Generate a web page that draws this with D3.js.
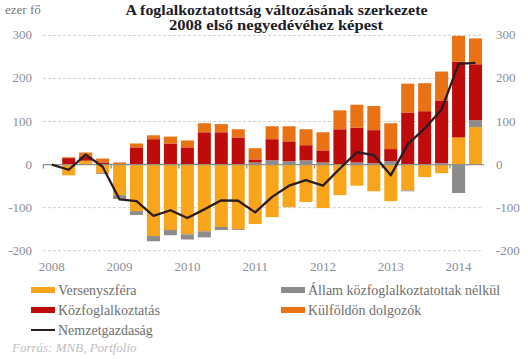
<!DOCTYPE html>
<html><head><meta charset="utf-8">
<script src="https://cdn.jsdelivr.net/npm/d3@7"></script>
<style>body{margin:0;background:#fff}svg{display:block}</style>
</head><body>
<svg id="c" width="528" height="359"></svg>
<script>
const quarters = ["2008Q1","2008Q2","2008Q3","2008Q4","2009Q1","2009Q2","2009Q3","2009Q4","2010Q1","2010Q2","2010Q3","2010Q4","2011Q1","2011Q2","2011Q3","2011Q4","2012Q1","2012Q2","2012Q3","2012Q4","2013Q1","2013Q2","2013Q3","2013Q4","2014Q1","2014Q2"];
const versenyszfera = [0,-25,9,-20,-71,-108,-166,-152,-162,-155,-145,-150,-138,-122,-99,-87,-101,-71,-49,-62,-85,-60,-29,-20,63,87];
const allam = [0,0,0,-2,-9,-9,-12,-12,-12,-14,-7,-2,5,10,8,10,5,0,5,3,8,-2,0,3,-66,16];
const kozfoglalkoztatas = [0,15,10,5,0,40,59,49,40,75,75,63,7,49,46,35,28,82,81,77,28,121,124,146,176,130];
const kulfoldon = [0,2,9,9,5,9,9,16,16,21,19,19,26,30,35,37,42,44,53,56,60,67,65,67,60,60];
const nemzetgazdasag = [0,-12,23,-5,-81,-85,-119,-106,-124,-104,-83,-84,-111,-75,-49,-36,-49,-9,29,22,-25,47,84,128,234,236];
const yearLabels = ["2008","2009","2010","2011","2012","2013","2014"];
const yTicks = [-200,-100,0,100,200,300];

const seriesNames = ["Versenyszféra","Állam közfoglalkoztatottak nélkül","Közfoglalkoztatás","Külföldön dolgozók"];
const seriesKeys = ["vers","allam","kozfog","kulf"];
const colors = {vers:"#F9A51B", allam:"#8C8C8C", kozfog:"#C00B0B", kulf:"#E87214"};
const lineColor = "#2A1C20";

const rows = quarters.map((q,i)=>({q, vers:versenyszfera[i], allam:allam[i], kozfog:kozfoglalkoztatas[i], kulf:kulfoldon[i]}));
const svg = d3.select("#c");
const serif = "'Liberation Serif', 'DejaVu Serif', serif";

const x = d3.scaleBand().domain(quarters).range([43.3, 484]).paddingInner(0.23).paddingOuter(0.115);
const y = d3.scaleLinear().domain([-200,300]).range([250.7, 35.4]);

// grid
svg.append("g").selectAll("line").data(yTicks.filter(d=>d!==0)).join("line")
  .attr("x1",43).attr("x2",483).attr("y1",d=>y(d)).attr("y2",d=>y(d))
  .attr("stroke","#cfcfcf").attr("stroke-width",1).attr("stroke-dasharray","3,2");

// axis labels
const lab = svg.append("g").attr("font-family",serif).attr("font-size",13).attr("fill","#8a8d99");
lab.selectAll("text.l").data(yTicks).join("text").attr("class","l")
  .attr("x",32).attr("y",d=>y(d)+4).attr("text-anchor","end").text(d=>d);
lab.selectAll("text.r").data(yTicks).join("text").attr("class","r")
  .attr("x",496).attr("y",d=>y(d)+4).attr("text-anchor","start").text(d=>d);
lab.selectAll("text.x").data(yearLabels).join("text").attr("class","x")
  .attr("x",d=>x(d+"Q1")+x.bandwidth()/2).attr("y",271).attr("text-anchor","middle").text(d=>d);

// stacks
const stack = d3.stack().keys(seriesKeys).offset(d3.stackOffsetDiverging);
const stacked = stack(rows);
svg.append("g").selectAll("g").data(stacked).join("g").attr("fill",d=>colors[d.key])
  .selectAll("rect").data(d=>d).join("rect")
  .attr("x",d=>x(d.data.q)).attr("width",x.bandwidth())
  .attr("y",d=>y(Math.max(d[0],d[1]))).attr("height",d=>Math.abs(y(d[0])-y(d[1])));

// zero axis
const step = x.step();
svg.append("line").attr("x1",43.3).attr("x2",484).attr("y1",y(0)).attr("y2",y(0))
  .attr("stroke","#8f8f8f").attr("stroke-width",1.3);
svg.append("g").selectAll("line").data(yearLabels).join("line")
  .attr("x1",d=>x(d+"Q1")-x.paddingInner()*step/2).attr("x2",d=>x(d+"Q1")-x.paddingInner()*step/2)
  .attr("y1",y(0)).attr("y2",y(0)+4).attr("stroke","#8f8f8f").attr("stroke-width",1.3);

// line
const line = d3.line().x((d,i)=>x(quarters[i])+x.bandwidth()/2).y(d=>y(d));
svg.append("path").datum(nemzetgazdasag).attr("d",line).attr("fill","none")
  .attr("stroke",lineColor).attr("stroke-width",2.3).attr("stroke-linejoin","round");

// title
const t = svg.append("g").attr("font-family",serif).attr("font-weight","bold").attr("font-size",13.8).attr("fill","#1c1c28").attr("text-anchor","middle");
t.append("text").attr("x",276.5).attr("y",14.5).attr("textLength",302).attr("lengthAdjust","spacingAndGlyphs").text("A foglalkoztatottság változásának szerkezete");
t.append("text").attr("x",276).attr("y",30).attr("textLength",214).attr("lengthAdjust","spacingAndGlyphs").text("2008 első negyedévéhez képest");
svg.append("text").attr("x",5).attr("y",14).attr("font-family",serif).attr("font-size",13).attr("fill","#777").text("ezer fő");

// legend
const legendItems = [
  {name:seriesNames[0], key:"vers", x:31, y:290},
  {name:seriesNames[1], key:"allam", x:281, y:290},
  {name:seriesNames[2], key:"kozfog", x:31, y:310},
  {name:seriesNames[3], key:"kulf", x:281, y:310}
];
const lg = svg.append("g").attr("font-family",serif).attr("font-size",14).attr("fill","#6e6e6e");
legendItems.forEach(d=>{
  lg.append("rect").attr("x",d.x).attr("y",d.y-3).attr("width",24).attr("height",6).attr("fill",colors[d.key]);
  lg.append("text").attr("x",d.x+27).attr("y",d.y+5).text(d.name);
});
lg.append("line").attr("x1",31).attr("x2",55).attr("y1",330).attr("y2",330).attr("stroke",lineColor).attr("stroke-width",2);
lg.append("text").attr("x",58).attr("y",335).text("Nemzetgazdaság");
svg.append("text").attr("x",12).attr("y",352).attr("font-family",serif).attr("font-style","italic").attr("font-size",13).attr("fill","#bdbdbd").text("Forrás: MNB, Portfolio");
</script>
</body></html>
